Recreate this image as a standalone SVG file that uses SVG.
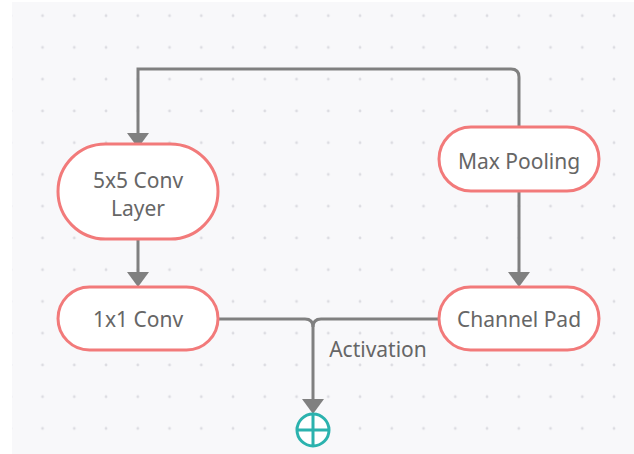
<svg xmlns="http://www.w3.org/2000/svg" width="634" height="454" viewBox="0 0 634 454">
  <defs>
    <pattern id="dots" patternUnits="userSpaceOnUse" x="-5.08" y="-0.18" width="31.75" height="31.75">
      <circle cx="15.875" cy="15.875" r="1.4" fill="#dcdce1"/>
    </pattern>
    <marker id="arrow" markerUnits="userSpaceOnUse" markerWidth="16" markerHeight="22" refX="0" refY="11" orient="auto" overflow="visible">
      <path d="M0,0 L15,11 L0,22 Z" fill="#808080"/>
    </marker>
    <style>
      .node rect { fill: #ffffff; stroke: #f27a7a; stroke-width: 3; }
      .node text, .label { font-family: "Noto Sans", "Open Sans", sans-serif; font-size: 21px; fill: #666666; text-anchor: middle; }
      .edge { fill: none; stroke: #808080; stroke-width: 3; }
      .sum { fill: #ffffff; stroke: #2bb2ae; stroke-width: 3; }
    </style>
  </defs>

  <!-- canvas -->
  <rect x="0" y="0" width="634" height="454" fill="#ffffff"/>
  <rect x="12" y="2" width="622" height="452" fill="#f8f8fa"/>
  <rect x="12" y="2" width="622" height="452" fill="url(#dots)"/>

  <!-- connectors -->
  <g id="connectors">
    <path class="edge" d="M519,127 V77 Q519,69 511,69 H138 V133" marker-end="url(#arrow)"/>
    <path class="edge" d="M138,239 V272" marker-end="url(#arrow)"/>
    <path class="edge" d="M519,191 V272" marker-end="url(#arrow)"/>
    <path class="edge" d="M218,319 H305 Q313,319 313,327"/>
    <path class="edge" d="M439,319 H321 Q313,319 313,327 V399" marker-end="url(#arrow)"/>
    <text class="label" x="378" y="357">Activation</text>
  </g>

  <!-- nodes -->
  <g id="conv5x5" class="node">
    <rect x="58" y="144" width="160" height="95" rx="47.5" ry="47.5"/>
    <text x="138" y="188">5x5 Conv</text>
    <text x="138" y="216">Layer</text>
  </g>
  <g id="conv1x1" class="node">
    <rect x="58" y="287" width="160" height="63" rx="31.5" ry="31.5"/>
    <text x="138" y="327">1x1 Conv</text>
  </g>
  <g id="maxpool" class="node">
    <rect x="439" y="127" width="160" height="64" rx="32" ry="32"/>
    <text x="519" y="169">Max Pooling</text>
  </g>
  <g id="chanpad" class="node">
    <rect x="439" y="287" width="160" height="63" rx="31.5" ry="31.5"/>
    <text x="519" y="327">Channel Pad</text>
  </g>
  <g id="sum">
    <circle class="sum" cx="313" cy="430" r="16"/>
    <path class="sum" d="M297,430 H329 M313,414 V446"/>
  </g>
</svg>
